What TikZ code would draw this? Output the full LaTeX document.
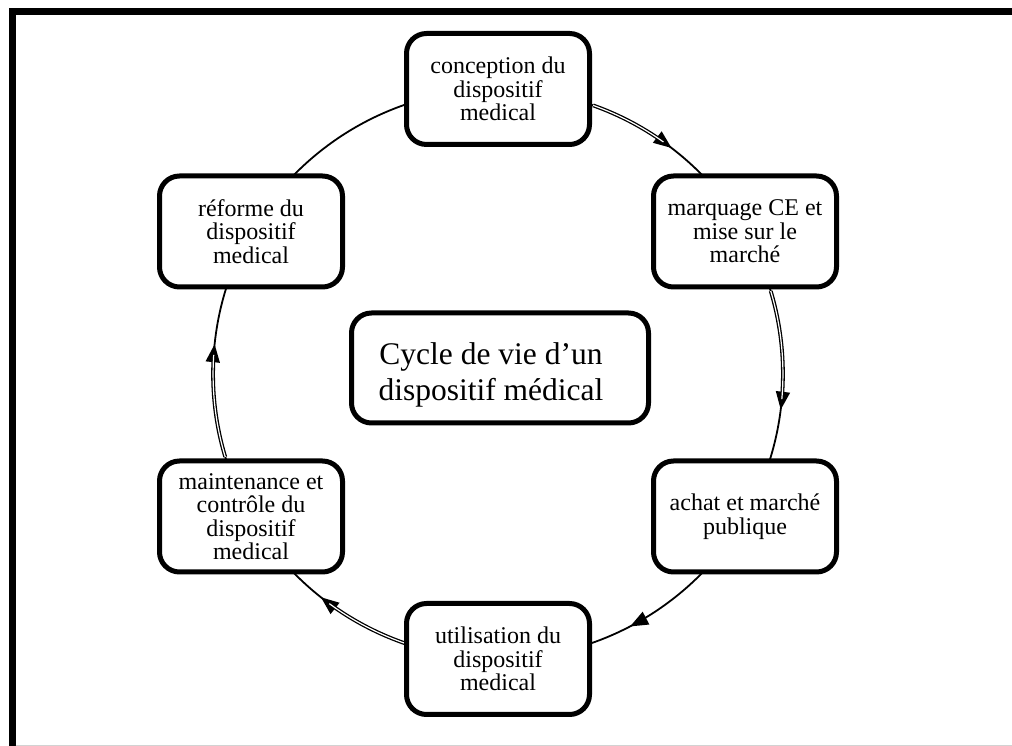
\documentclass[tikz,border=0pt]{standalone}
\usepackage{fontspec}
\setmainfont{Liberation Serif}
\usetikzlibrary{arrows.meta,decorations.markings,decorations.pathmorphing,backgrounds}
\begin{document}
\begin{tikzpicture}[x=1pt,y=1pt,
  stagebox/.style={draw, line width=5pt, rounded corners=20pt, fill=white,
    minimum width=183pt, minimum height=111pt, inner sep=0pt, align=center,
    font=\fontsize{24}{23.5}\selectfont},
  titlebox/.style={draw, line width=5pt, rounded corners=20pt, fill=white,
    minimum width=297pt, minimum height=110pt, inner sep=0pt, align=center,
    font=\fontsize{31.5}{36}\selectfont},
  cyclearc/.style={line width=1.8pt, looseness=0.91},
  flowtip/.style={postaction={decorate, decoration={markings,
    mark=at position #1 with {\arrow{Triangle[length=18pt,width=14pt]}}}}},
  twinline/.style 2 args={postaction={draw, line width=1.3pt, double=white,
    double distance=1.2pt, decorate, decoration={curveto, pre=moveto,
    pre length=#1, post=moveto, post length=#2}}},
]
\useasboundingbox (0,0) rectangle (1012,746);

% page frame
\draw[line width=6.7pt, line join=miter] (12.3,0) -- (12.3,734.5) -- (1012,734.5);
\draw[gray!35, line width=1pt] (15.6,0.5) -- (1012,0.5);

% hub of the cycle
\coordinate (hub) at (498,372);

% stages of the life cycle
\node[stagebox] (conc) at (498,657)   {conception du\\dispositif\\medical};
\node[stagebox] (ce)   at (745,514.5) {marquage CE et\\mise sur le\\march\'e};
\node[stagebox] (buy)  at (745,229.5) {achat et march\'e\\publique};
\node[stagebox] (use)  at (498,87)    {utilisation du\\dispositif\\medical};
\node[stagebox] (mnt)  at (251,229.5) {maintenance et\\contr\^ole du\\dispositif\\medical};
\node[stagebox] (ref)  at (251,514.5) {r\'eforme du\\dispositif\\medical};

% title in the middle
\node[titlebox] (title) at (500,378)
  {\rule{0pt}{36pt}Cycle de vie d’un\hspace*{18pt}\\dispositif m\'edical\hspace*{18pt}};

% circular connectors behind the boxes
\begin{scope}[on background layer]
  \draw[cyclearc, flowtip=0.625, twinline={97pt}{122pt}] (conc.center) to[bend left=30] (ce.center);
  \draw[cyclearc, flowtip=0.62, twinline={65pt}{124pt}]  (ce.center)   to[bend left=30] (buy.center);
  \draw[cyclearc, flowtip=0.54]                          (buy.center)  to[bend left=30] (use.center);
  \draw[cyclearc, flowtip=0.64, twinline={95pt}{118pt}]  (use.center)  to[bend left=30] (mnt.center);
  \draw[cyclearc, flowtip=0.60, twinline={65pt}{130pt}]  (mnt.center)  to[bend left=30] (ref.center);
  \draw[cyclearc]                                        (ref.center)  to[bend left=30] (conc.center);
\end{scope}
\end{tikzpicture}
\end{document}
